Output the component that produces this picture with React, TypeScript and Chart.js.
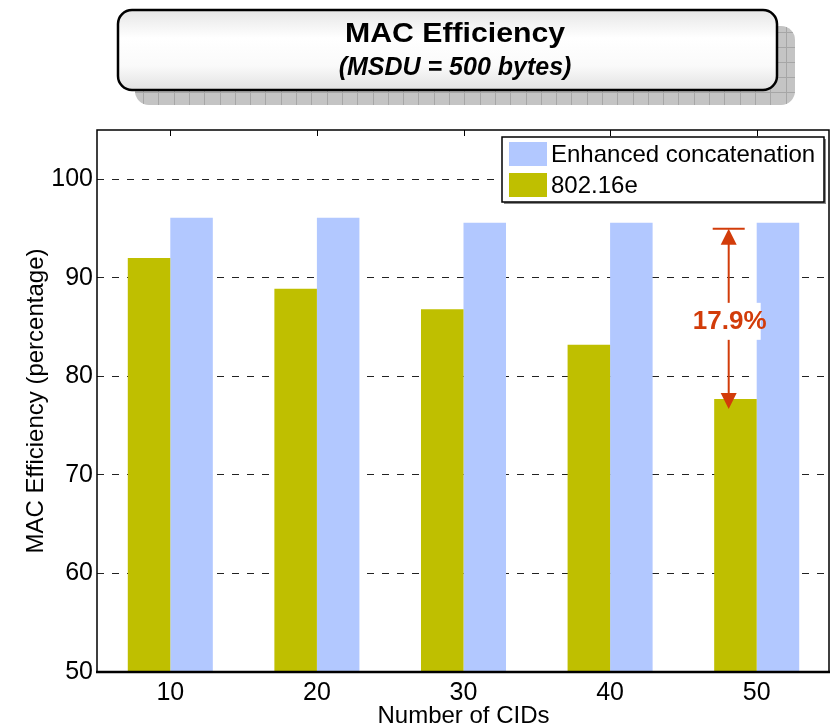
import React, { useEffect, useRef } from "react";
import { Chart, registerables } from "chart.js";

Chart.register(...registerables);

const cids = ["10", "20", "30", "40", "50"];
const standard80216e = [92.0, 88.9, 86.8, 83.2, 77.7];
const enhancedConcat = [96.1, 96.1, 95.6, 95.6, 95.6];
const yTicks = [50, 60, 70, 80, 90, 100];

const FONT = "'Liberation Sans', Arial, sans-serif";
const GREEN = "rgb(191,191,0)";
const BLUE = "rgb(178,200,255)";
const RED = "rgb(210,60,10)";

const titleBoxPlugin = {
  id: "titleBox",
  beforeDraw(chart: any) {
    const ctx = chart.ctx as CanvasRenderingContext2D;
    ctx.save();
    // shadow with grid texture
    const sx = 135, sy = 26, sw = 660, sh = 79, r = 14;
    ctx.beginPath();
    ctx.roundRect(sx, sy, sw, sh, r);
    ctx.fillStyle = "#c4c4c4";
    ctx.fill();
    ctx.save();
    ctx.clip();
    ctx.strokeStyle = "#a6a6a6";
    ctx.lineWidth = 1;
    for (let x = sx + 8; x < sx + sw; x += 15.3) {
      ctx.beginPath();
      ctx.moveTo(Math.round(x) + 0.5, sy);
      ctx.lineTo(Math.round(x) + 0.5, sy + sh);
      ctx.stroke();
    }
    for (let y = sy + 6; y < sy + sh; y += 15) {
      ctx.beginPath();
      ctx.moveTo(sx, Math.round(y) + 0.5);
      ctx.lineTo(sx + sw, Math.round(y) + 0.5);
      ctx.stroke();
    }
    ctx.restore();

    // front box
    const bx = 118, by = 10, bw = 659, bh = 80;
    const g = ctx.createLinearGradient(0, by, 0, by + bh);
    g.addColorStop(0, "#e6e6e6");
    g.addColorStop(0.35, "#ffffff");
    g.addColorStop(0.7, "#fafafa");
    g.addColorStop(1, "#e2e2e2");
    ctx.beginPath();
    ctx.roundRect(bx, by, bw, bh, r);
    ctx.fillStyle = g;
    ctx.fill();
    ctx.lineWidth = 2.5;
    ctx.strokeStyle = "#000";
    ctx.stroke();

    ctx.fillStyle = "#000";
    ctx.textAlign = "center";
    ctx.textBaseline = "alphabetic";
    ctx.save();
    ctx.translate(455, 42);
    ctx.scale(1.08, 1);
    ctx.font = `bold 28px ${FONT}`;
    ctx.fillText("MAC Efficiency", 0, 0);
    ctx.restore();
    ctx.font = `italic bold 25px ${FONT}`;
    ctx.fillText("(MSDU = 500 bytes)", 455, 75);
    ctx.restore();
  },
};

const annotationPlugin = {
  id: "gapAnnotation",
  afterDatasetsDraw(chart: any) {
    const ctx = chart.ctx as CanvasRenderingContext2D;
    const xs = chart.scales.x;
    const ys = chart.scales.y;
    const i = cids.length - 1;
    const hi = enhancedConcat[i];
    const lo = standard80216e[i];
    const x = xs.getPixelForTick(i) - 28;
    const yTop = ys.getPixelForValue(hi) + 6;
    const yBot = ys.getPixelForValue(lo) + 10;
    ctx.save();
    ctx.strokeStyle = RED;
    ctx.fillStyle = RED;
    ctx.lineWidth = 2;
    ctx.beginPath();
    ctx.moveTo(x, yTop + 8);
    ctx.lineTo(x, yBot - 8);
    ctx.stroke();
    ctx.beginPath();
    ctx.moveTo(x - 16, yTop);
    ctx.lineTo(x + 16, yTop);
    ctx.stroke();
    // arrowheads
    ctx.beginPath();
    ctx.moveTo(x, yTop);
    ctx.lineTo(x - 8, yTop + 16);
    ctx.lineTo(x + 8, yTop + 16);
    ctx.closePath();
    ctx.fill();
    ctx.beginPath();
    ctx.moveTo(x, yBot);
    ctx.lineTo(x - 8, yBot - 16);
    ctx.lineTo(x + 8, yBot - 16);
    ctx.closePath();
    ctx.fill();
    // label
    const yMid = (yTop + yBot) / 2 + 3;
    ctx.fillStyle = "#fff";
    ctx.fillRect(x - 31, yMid - 19, 63, 37);
    ctx.fillStyle = RED;
    ctx.font = `bold 26px ${FONT}`;
    ctx.textAlign = "center";
    ctx.textBaseline = "middle";
    ctx.fillText(`${(hi - lo).toFixed(1)}%`, x + 1, yMid);
    ctx.restore();
  },
};

const framePlugin = {
  id: "frameAndLegend",
  afterDraw(chart: any) {
    const ctx = chart.ctx as CanvasRenderingContext2D;
    const { left, right, top, bottom } = chart.chartArea;
    const xs = chart.scales.x;
    ctx.save();
    ctx.strokeStyle = "#000";
    ctx.lineWidth = 1.5;
    ctx.beginPath();
    ctx.moveTo(left, bottom);
    ctx.lineTo(left, top);
    ctx.lineTo(right - 1, top);
    ctx.lineTo(right - 1, bottom);
    ctx.stroke();
    ctx.lineWidth = 2.5;
    ctx.beginPath();
    ctx.moveTo(left - 1, bottom);
    ctx.lineTo(right, bottom);
    ctx.stroke();
    // inward tick marks along the top edge
    ctx.lineWidth = 1;
    for (let i = 0; i < cids.length; i++) {
      const px = Math.round(xs.getPixelForTick(i)) + 0.5;
      ctx.beginPath();
      ctx.moveTo(px, top);
      ctx.lineTo(px, top + 6);
      ctx.stroke();
    }

    // legend box
    const lx = 502, ly = 137, lw = 322, lh = 65;
    ctx.fillStyle = "#888";
    ctx.fillRect(lx + 2, ly + 2, lw, lh);
    ctx.fillStyle = "#fff";
    ctx.fillRect(lx, ly, lw, lh);
    ctx.strokeStyle = "#000";
    ctx.lineWidth = 1.5;
    ctx.strokeRect(lx, ly, lw, lh);
    const items = [...chart.data.datasets].reverse();
    ctx.font = `24px ${FONT}`;
    ctx.textAlign = "left";
    ctx.textBaseline = "alphabetic";
    items.forEach((ds: any, k: number) => {
      const rowY = ly + 5 + k * 31;
      ctx.fillStyle = ds.backgroundColor;
      ctx.fillRect(lx + 7, rowY, 38, 24);
      ctx.fillStyle = "#000";
      ctx.fillText(ds.label, lx + 49, rowY + 20);
    });
    ctx.restore();
  },
};

export default function App() {
  const canvasRef = useRef<HTMLCanvasElement | null>(null);

  useEffect(() => {
    if (!canvasRef.current) return;
    const chart = new Chart(canvasRef.current, {
      type: "bar",
      data: {
        labels: cids,
        datasets: [
          {
            label: "802.16e",
            data: standard80216e,
            backgroundColor: GREEN,
            borderWidth: 0,
          },
          {
            label: "Enhanced concatenation",
            data: enhancedConcat,
            backgroundColor: BLUE,
            borderWidth: 0,
          },
        ],
      },
      options: {
        animation: false,
        responsive: false,
        devicePixelRatio: 1,
        layout: { padding: { left: 0, top: 130, right: 1, bottom: -4 } },
        datasets: {
          bar: { categoryPercentage: 0.58, barPercentage: 1.0 },
        },
        plugins: {
          legend: { display: false },
          tooltip: { enabled: false },
          title: { display: false },
        },
        scales: {
          x: {
            grid: { display: false, drawTicks: false },
            border: { display: false },
            ticks: {
              color: "#000",
              font: { family: FONT, size: 25 },
              padding: 6,
            },
            title: {
              display: true,
              text: "Number of CIDs",
              color: "#000",
              font: { family: FONT, size: 24 },
              padding: { top: 0, bottom: 0 },
            },
            afterFit(scale: any) {
              scale.height = 59;
            },
          },
          y: {
            min: 50,
            max: 105,
            afterBuildTicks(scale: any) {
              scale.ticks = yTicks.map((v) => ({ value: v }));
            },
            grid: {
              color: "#222",
              lineWidth: 1,
              drawTicks: false,
            },
            border: { display: false, dash: [7, 8] },
            ticks: {
              color: "#000",
              font: { family: FONT, size: 25 },
              padding: 4,
            },
            title: {
              display: true,
              text: "MAC Efficiency (percentage)",
              color: "#000",
              font: { family: FONT, size: 24 },
              padding: { top: 22, bottom: 0 },
            },
            afterFit(scale: any) {
              scale.width = 97;
            },
          },
        },
      },
      plugins: [titleBoxPlugin, annotationPlugin, framePlugin],
    });
    return () => chart.destroy();
  }, []);

  return (
    <div style={{ position: "fixed", left: 0, top: 0, width: 831, height: 727, background: "#fff" }}>
      <canvas ref={canvasRef} width={831} height={727} />
    </div>
  );
}
